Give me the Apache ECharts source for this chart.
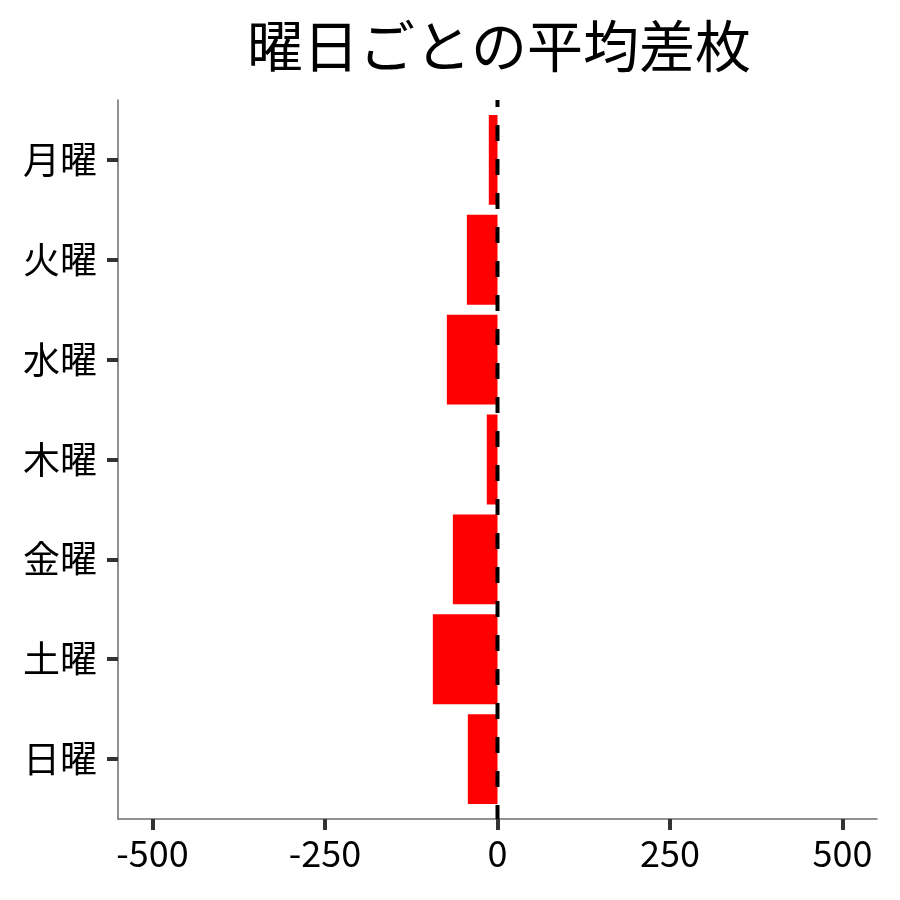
<!DOCTYPE html>
<html>
<head>
<meta charset="utf-8">
<script src="https://cdn.jsdelivr.net/npm/echarts@6/dist/echarts.min.js"></script>
<style>
html,body{margin:0;padding:0;background:#fff;}
#main{width:900px;height:900px;}
</style>
</head>
<body>
<div id="main"></div>
<script>
const days = ['月曜', '火曜', '水曜', '木曜', '金曜', '土曜', '日曜'];
const avgDiff = [-12.6, -44.4, -73.4, -15.5, -64.7, -93.7, -43.0];
const xTicks = [-500, -250, 0, 250, 500];
const yPositions = [1, 2, 3, 4, 5, 6, 7];
const titleText = '曜日ごとの平均差枚';

const barData = avgDiff.map((v, i) => [v, yPositions[i]]);
const FONT = 'Noto Sans CJK JP';

const chart = echarts.init(document.getElementById('main'), null, {renderer: 'canvas'});
chart.setOption({
  backgroundColor: '#ffffff',
  animation: false,
  title: {
    text: titleText,
    left: 494, top: 13,
    textAlign: 'center',
    textStyle: {fontFamily: FONT, fontSize: 56, fontWeight: 'normal', color: '#000'}
  },
  grid: {left: 118, right: 23, top: 100, bottom: 81, containLabel: false},
  xAxis: {
    type: 'value', min: -550, max: 550,
    splitLine: {show: false},
    axisLine: {show: true, onZero: false, lineStyle: {color: '#6e6e6e', width: 1.5}},
    axisTick: {show: true, customValues: xTicks, length: 11, lineStyle: {color: '#333', width: 4}},
    axisLabel: {customValues: xTicks, margin: 16, fontFamily: FONT, fontSize: 36, color: '#000'}
  },
  yAxis: {
    type: 'value', inverse: true, min: 0.4, max: 7.6,
    splitLine: {show: false},
    axisLine: {show: true, onZero: false, lineStyle: {color: '#6e6e6e', width: 1.5}},
    axisTick: {show: true, customValues: yPositions, length: 11, lineStyle: {color: '#333', width: 4}},
    axisLabel: {customValues: yPositions, margin: 21, fontFamily: FONT, fontSize: 37, color: '#000',
      formatter: v => days[Math.round(v) - 1]}
  },
  series: [
    {
      type: 'custom',
      encode: {x: 0, y: 1},
      data: barData,
      z: 2,
      renderItem: function (params, api) {
        const v = api.value(0), i = api.value(1);
        const p0 = api.coord([0, i]);
        const p1 = api.coord([v, i]);
        const h = api.size([0, 0.9])[1];
        return {
          type: 'rect',
          shape: {x: Math.min(p0[0], p1[0]), y: p0[1] - h / 2, width: Math.abs(p1[0] - p0[0]), height: h},
          style: {fill: '#ff0000'}
        };
      }
    },
    {
      type: 'line',
      data: [[0, 0.4], [0, 7.6]],
      symbol: 'none',
      z: 5,
      silent: true,
      lineStyle: {color: '#000', width: 4, type: [16, 18], dashOffset: 9}
    }
  ]
});
</script>
</body>
</html>
